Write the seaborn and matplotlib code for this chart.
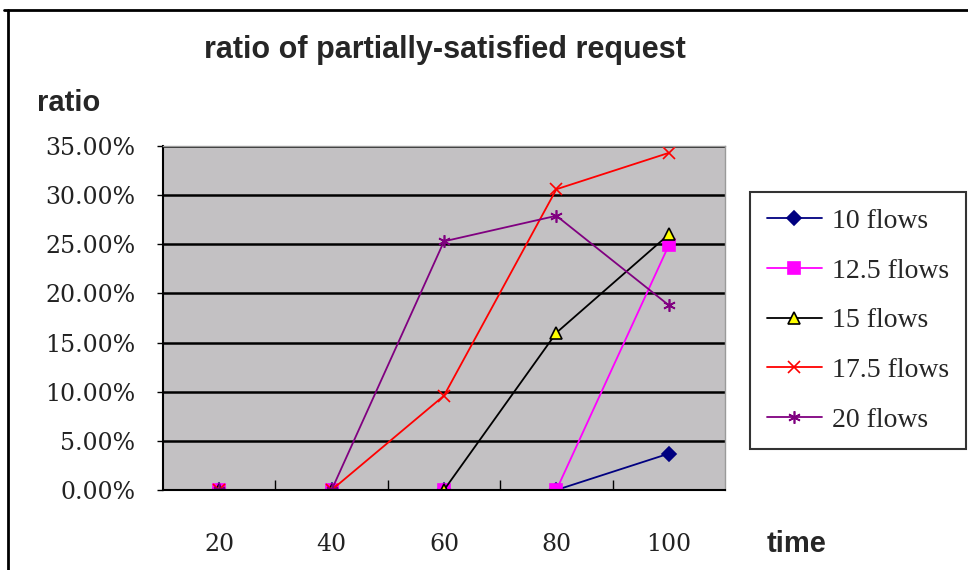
import matplotlib
matplotlib.use("Agg")
import matplotlib.pyplot as plt
import seaborn as sns
import pandas as pd
from matplotlib.ticker import PercentFormatter, FixedLocator
from matplotlib.lines import Line2D

times = ["20", "40", "60", "80", "100"]
series_names = ["10 flows", "12.5 flows", "15 flows", "17.5 flows", "20 flows"]
flows_10 = [0.0, 0.0, 0.0, 0.0, 3.7]
flows_12_5 = [0.0, 0.0, 0.0, 0.0, 24.9]
flows_15 = [0.0, 0.0, 0.0, 16.0, 26.0]
flows_17_5 = [0.0, 0.0, 9.6, 30.6, 34.3]
flows_20 = [0.0, 0.0, 25.3, 27.9, 18.8]
all_values = [flows_10, flows_12_5, flows_15, flows_17_5, flows_20]

styles = [
    dict(color="#000080", marker="D", mfc="#000080", mec="#000080", ms=7),
    dict(color="#FF00FF", marker="s", mfc="#FF00FF", mec="#FF00FF", ms=8),
    dict(color="#000000", marker="^", mfc="#FFFF00", mec="#000000", ms=9),
    dict(color="#FF0000", marker="x", mfc="#FF0000", mec="#FF0000", ms=8),
    dict(color="#800080", marker=(6, 2, 0), mfc="#800080", mec="#800080", ms=9),
]

sns.set_theme(style="white")
plt.rcParams["font.family"] = ["DejaVu Serif"]

fig = plt.figure(figsize=(9.68, 5.70), dpi=100)
fig.patch.set_facecolor("white")
ax = fig.add_axes([163 / 968, 1 - 490 / 570, (725 - 163) / 968, (490 - 146) / 570])
ax.set_facecolor("#C3C1C3")

for name, vals, st in zip(series_names, all_values, styles):
    df = pd.DataFrame({"time": times, "ratio": vals})
    sns.lineplot(data=df, x="time", y="ratio", ax=ax, color=st["color"],
                 marker=st["marker"], markerfacecolor=st["mfc"],
                 markeredgecolor=st["mec"], markersize=st["ms"],
                 markeredgewidth=1.2, linewidth=1.3, label=name, sort=False)

ax.set_xlim(-0.5, 4.5)
ax.set_ylim(0, 35)
ax.yaxis.set_major_locator(FixedLocator([0, 5, 10, 15, 20, 25, 30, 35]))
ax.yaxis.set_major_formatter(PercentFormatter(decimals=2))
ax.grid(axis="y", color="black", linewidth=1.8)
ax.set_axisbelow(True)

ax.set_xticks(range(len(times)))
ax.set_xticklabels(times)
ax.xaxis.set_minor_locator(FixedLocator([0.5, 1.5, 2.5, 3.5]))
ax.tick_params(axis="x", which="minor", direction="in", length=7, color="black", width=1, bottom=True)
ax.tick_params(axis="x", which="major", length=0, pad=31, labelsize=17)
ax.tick_params(axis="y", which="major", direction="out", length=4, color="black", width=1, left=True, labelsize=17, pad=16)
for lbl in ax.get_xticklabels() + ax.get_yticklabels():
    lbl.set_color("#222222")

for s in ["left", "bottom"]:
    ax.spines[s].set_color("black")
    ax.spines[s].set_linewidth(1.5)
for s in ["top", "right"]:
    ax.spines[s].set_color("#9A9A9A")
    ax.spines[s].set_linewidth(1.0)

ax.set_xlabel("")
ax.set_ylabel("")

sans = ["Liberation Sans", "DejaVu Sans"]
fig.text(445 / 968, 1 - 50 / 570, "ratio of partially-satisfied request",
         ha="center", va="center", fontsize=22, fontweight="bold", family=sans)
fig.text(37 / 968, 1 - 103 / 570, "ratio", ha="left", va="center",
         fontsize=21, fontweight="bold", family=sans)
fig.text(767 / 968, 1 - 544 / 570, "time", ha="left", va="center",
         fontsize=21, fontweight="bold", family=sans)

leg = ax.legend(loc="upper left", bbox_to_anchor=(750 / 968, 1 - 192 / 570),
                bbox_transform=fig.transFigure, frameon=True, fancybox=False,
                prop={"family": ["Liberation Serif", "DejaVu Serif"], "size": 20},
                handlelength=2.0, handletextpad=0.36,
                labelspacing=0.87, borderpad=0.6, borderaxespad=0)
leg.get_frame().set_edgecolor("black")
leg.get_frame().set_linewidth(1.5)
leg.get_frame().set_facecolor("white")

fig.add_artist(Line2D([4 / 968, 1.0], [1 - 10 / 570, 1 - 10 / 570],
                      transform=fig.transFigure, color="black", linewidth=2))
fig.add_artist(Line2D([8 / 968, 8 / 968], [1 - 10 / 570, 0.0],
                      transform=fig.transFigure, color="black", linewidth=2))

fig.savefig("out.png", dpi=100, facecolor="white")
